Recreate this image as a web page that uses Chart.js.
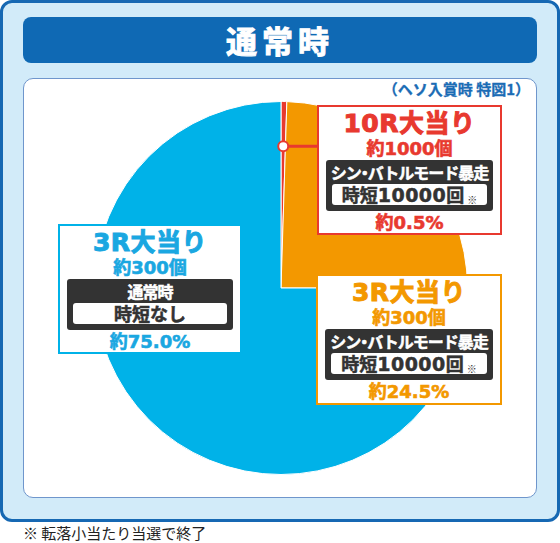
<!DOCTYPE html>
<html lang="ja">
<head>
<meta charset="utf-8">
<script src="https://cdn.jsdelivr.net/npm/chart.js@4.4.1/dist/chart.umd.min.js"></script>
<style>
  html, body { margin: 0; padding: 0; background: #fff; }
  body { width: 560px; height: 543px; position: relative; overflow: hidden;
         font-family: "Noto Sans CJK JP", sans-serif; }
  #frame { position: absolute; left: 0; top: 0; width: 560px; height: 522px; box-sizing: border-box;
           background: #d2ebf9; border: 3px solid #1668b3; border-radius: 12px; }
  #title { position: absolute; left: 23px; top: 17px; width: 514px; height: 46px;
           background: #0f69b4; border-radius: 8px; color: #fff; text-align: center;
           font-size: 31px; font-weight: 700; line-height: 46px; letter-spacing: 5px;
           -webkit-text-stroke: 1px #fff; }
  #panel { position: absolute; left: 23px; top: 78px; width: 514px; height: 420px; box-sizing: border-box;
           background: #fff; border: 1px solid #6f96cc; border-radius: 10px; }
  #source { position: absolute; right: 30px; top: 80px; color: #1b6cb5; font-size: 15px;
            font-weight: 700; line-height: 18px; -webkit-text-stroke: 0.3px #1b6cb5; }
  #chartBox { position: absolute; left: 94px; top: 101px; width: 374px; height: 374px; }
  .callout { position: absolute; box-sizing: border-box; background: #fff; border: 2px solid;
             text-align: center; }
  .callout .name { font-family: "DejaVu Sans", "Noto Sans CJK JP", sans-serif; font-weight: 700;
                   font-size: 25px; line-height: 30px; padding-top: 2px; letter-spacing: 0.5px;
                   -webkit-text-stroke: 1px currentColor; }
  .callout .pay { font-family: "DejaVu Sans", "Noto Sans CJK JP", sans-serif; font-weight: 700;
                  font-size: 18px; line-height: 20px; -webkit-text-stroke: 0.6px currentColor; }
  .callout .mode { background: #333; border-radius: 3px; margin: 1px 7px 0 7px; padding: 2px 3px 6px 3px; }
  .callout .mode .lbl { color: #fff; font-size: 16px; font-weight: 700; line-height: 20px; letter-spacing: -1px;
                        white-space: nowrap; -webkit-text-stroke: 0.5px #fff; }
  .callout .mode .lbl .dot { margin: 0 -4px; }
  .callout .mode .jt { background: #fff; border-radius: 3px; margin: 2px 3px 0 3px; height: 21px; line-height: 21px;
                       color: #333; font-size: 18px; font-weight: 700; white-space: nowrap;
                       -webkit-text-stroke: 0.5px #333; }
  .callout .mode .jt .num { font-family: "DejaVu Sans", sans-serif; font-size: 19px; letter-spacing: 0.5px; }
  .callout .mode .jt .kome { font-size: 10px; font-weight: 400; margin-left: 3px; vertical-align: -2px;
                             -webkit-text-stroke: 0; }
  .callout .pct { font-family: "DejaVu Sans", "Noto Sans CJK JP", sans-serif; font-weight: 700;
                  font-size: 18px; line-height: 22px; margin-top: 1px; -webkit-text-stroke: 0.6px currentColor; }
  #note { position: absolute; left: 23px; top: 523px; font-size: 15px; line-height: 20px; color: #222; }
</style>
</head>
<body>
<div id="frame">
</div>
<div id="title">通常時</div>
<div id="panel"></div>
<div id="source">（ヘソ入賞時 特図1）</div>
<div id="chartBox"><canvas id="pie"></canvas></div>
<div id="callouts"></div>
<div id="note">※ 転落小当たり当選で終了</div>

<script>
// slices in clockwise order starting at 12 o'clock
const categories = ['10R大当り', '3R大当り', '3R大当り'];
const shares = [0.5, 24.5, 75.0];
const payouts = ['約1000個', '約300個', '約300個'];
const modes = ['シン・バトルモード暴走', 'シン・バトルモード暴走', '通常時'];
const jitanCounts = [10000, 10000, null];
const sliceColors = ['#e8392f', '#f39800', '#00b2e8'];

// where each callout box sits on the page
const boxLayout = [
  { left: 317, top: 105, width: 185, height: 130 },
  { left: 316, top: 274, width: 186, height: 131 },
  { left: 58,  top: 224, width: 184, height: 130 }
];

const holder = document.getElementById('callouts');
categories.forEach((name, i) => {
  const b = boxLayout[i];
  const box = document.createElement('div');
  box.className = 'callout';
  box.style.left = b.left + 'px';
  box.style.top = b.top + 'px';
  box.style.width = b.width + 'px';
  box.style.height = b.height + 'px';
  box.style.borderColor = sliceColors[i];
  box.style.color = i === 2 ? '#1aa7e1' : sliceColors[i];
  const jt = jitanCounts[i] === null
    ? '時短なし'
    : '時短<span class="num">' + jitanCounts[i] + '</span>回<span class="kome">※</span>';
  const lbl = modes[i].replace('・', '<span class="dot">・</span>');
  box.innerHTML =
    '<div class="name">' + name + '</div>' +
    '<div class="pay">' + payouts[i] + '</div>' +
    '<div class="mode"><div class="lbl">' + lbl + '</div><div class="jt">' + jt + '</div></div>' +
    '<div class="pct">約' + shares[i].toFixed(1) + '%</div>';
  holder.appendChild(box);
});

// dot on the 10R slice with a line running to its callout
const connector = {
  id: 'connector',
  afterDatasetsDraw(chart) {
    const arc = chart.getDatasetMeta(0).data[0];
    const mid = (arc.startAngle + arc.endAngle) / 2;
    const r = arc.outerRadius * 0.76;
    const x = arc.x + Math.cos(mid) * r;
    const y = arc.y + Math.sin(mid) * r;
    const ctx = chart.ctx;
    const boxX = boxLayout[0].left - chart.canvas.parentNode.offsetLeft + 2;
    ctx.save();
    ctx.strokeStyle = sliceColors[0];
    ctx.lineWidth = 3;
    ctx.beginPath();
    ctx.moveTo(x, y);
    ctx.lineTo(boxX, y);
    ctx.stroke();
    ctx.beginPath();
    ctx.arc(x, y, 5, 0, Math.PI * 2);
    ctx.fillStyle = '#fff';
    ctx.fill();
    ctx.lineWidth = 2;
    ctx.stroke();
    ctx.restore();
  }
};

new Chart(document.getElementById('pie'), {
  type: 'pie',
  data: {
    labels: categories,
    datasets: [{
      data: shares,
      backgroundColor: sliceColors,
      borderColor: '#fff',
      borderWidth: 1
    }]
  },
  options: {
    responsive: true,
    maintainAspectRatio: false,
    animation: false,
    layout: { padding: 0 },
    plugins: {
      legend: { display: false },
      tooltip: { enabled: false }
    }
  },
  plugins: [connector]
});
</script>
</body>
</html>
